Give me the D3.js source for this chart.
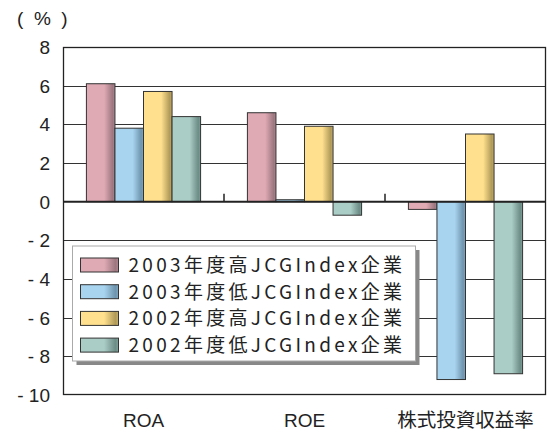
<!DOCTYPE html>
<html>
<head>
<meta charset="utf-8">
<script src="https://cdn.jsdelivr.net/npm/d3@7"></script>
<style>
  body { margin: 0; background: #fff; }
  text { font-family: "Liberation Sans", Arial, sans-serif; fill: #222; }
  .cjk { font-family: "Noto Sans CJK JP", "Liberation Sans", sans-serif; }
</style>
</head>
<body>
<div id="chart"></div>
<script>
// categories and series
const categories = ["ROA", "ROE", "株式投資収益率"];
const seriesNames = [
  "2003年度高JCGIndex企業",
  "2003年度低JCGIndex企業",
  "2002年度高JCGIndex企業",
  "2002年度低JCGIndex企業"
];
const s2003High = [6.1, 4.6, -0.4];
const s2003Low = [3.8, 0.1, -9.2];
const s2002High = [5.7, 3.9, 3.5];
const s2002Low = [4.4, -0.7, -8.9];
const yTicks = [8, 6, 4, 2, 0, -2, -4, -6, -8, -10];
const colors = ["#e0aab4", "#a9d4f0", "#ffe08e", "#aacdc6"];
const darks = ["#9c7780", "#6e94ae", "#b09a58", "#6c8c86"];

const allSeries = [s2003High, s2003Low, s2002High, s2002Low];

const W = 549, H = 432;
const svg = d3.select("#chart").append("svg")
  .attr("width", W).attr("height", H);

const plot = {left: 63, right: 546, top: 47, bottom: 395};

const x0 = d3.scaleBand().domain(categories)
  .range([plot.left, plot.right]).paddingInner(0).paddingOuter(0);
const x1 = d3.scaleBand().domain(d3.range(4))
  .range([0, x0.bandwidth()]).paddingOuter(0.82).paddingInner(0);
const y = d3.scaleLinear().domain([-10, 8]).range([plot.bottom, plot.top]);

// gradients for the bars
const defs = svg.append("defs");
colors.forEach((c, i) => {
  const g = defs.append("linearGradient").attr("id", "g" + i)
    .attr("x1", "0").attr("x2", "1").attr("y1", "0").attr("y2", "0");
  g.append("stop").attr("offset", "0").attr("stop-color", c);
  g.append("stop").attr("offset", "0.62").attr("stop-color", c);
  g.append("stop").attr("offset", "0.92").attr("stop-color", darks[i]);
  g.append("stop").attr("offset", "1").attr("stop-color", d3.interpolate(darks[i], c)(0.3));
});

// grid lines
svg.append("g").selectAll("line")
  .data(yTicks.filter(d => d !== 0 && d !== 8 && d !== -10))
  .join("line")
  .attr("x1", plot.left).attr("x2", plot.right)
  .attr("y1", d => Math.round(y(d)) + 0.5).attr("y2", d => Math.round(y(d)) + 0.5)
  .attr("stroke", "#333").attr("stroke-width", 1);

// bars
const groups = svg.append("g").selectAll("g")
  .data(categories)
  .join("g")
  .attr("transform", d => `translate(${x0(d)},0)`);

groups.selectAll("rect")
  .data((d, ci) => allSeries.map((s, si) => ({si, v: s[ci]})))
  .join("rect")
  .attr("x", d => x1(d.si))
  .attr("width", x1.bandwidth())
  .attr("y", d => y(Math.max(0, d.v)))
  .attr("height", d => Math.abs(y(d.v) - y(0)))
  .attr("fill", d => `url(#g${d.si})`)
  .attr("stroke", "#333").attr("stroke-width", 1);

// zero line
svg.append("line")
  .attr("x1", plot.left).attr("x2", plot.right)
  .attr("y1", y(0)).attr("y2", y(0))
  .attr("stroke", "#222").attr("stroke-width", 2);

// category separator ticks
svg.append("g").selectAll("line")
  .data(categories.slice(1))
  .join("line")
  .attr("x1", d => x0(d)).attr("x2", d => x0(d))
  .attr("y1", y(0) - 8).attr("y2", y(0))
  .attr("stroke", "#222").attr("stroke-width", 1.5);

// plot frame
svg.append("rect")
  .attr("x", plot.left + 0.5).attr("y", plot.top + 0.5)
  .attr("width", plot.right - plot.left - 1).attr("height", plot.bottom - plot.top - 1)
  .attr("fill", "none").attr("stroke", "#222").attr("stroke-width", 1.3);

// y axis labels
svg.append("g").selectAll("text")
  .data(yTicks)
  .join("text")
  .attr("x", 50).attr("y", d => y(d) + 7)
  .attr("text-anchor", "end")
  .attr("font-size", 19)
  .text(d => d < 0 ? "- " + Math.abs(d) : d);

svg.append("text")
  .attr("x", 17).attr("y", 25)
  .attr("font-size", 19)
  .attr("xml:space", "preserve")
  .text("(  %  )");

// category labels
svg.append("g").selectAll("text")
  .data(categories)
  .join("text")
  .attr("class", (d, i) => i === 2 ? "cjk" : null)
  .attr("x", d => x0(d) + x0.bandwidth() / 2)
  .attr("y", 427)
  .attr("text-anchor", "middle")
  .attr("font-size", d => d.length > 3 ? 19.5 : 19)
  .text(d => d);

// legend
const lg = svg.append("g").attr("transform", "translate(72.5,246)");
lg.append("rect").attr("x", 4).attr("y", 4).attr("width", 343).attr("height", 115)
  .attr("fill", "#888");
lg.append("rect").attr("x", 0).attr("y", 0).attr("width", 343).attr("height", 115)
  .attr("fill", "#fff").attr("stroke", "#aaa").attr("stroke-width", 1);

const items = lg.selectAll("g.item")
  .data(seriesNames)
  .join("g").attr("class", "item")
  .attr("transform", (d, i) => `translate(0,${19 + i * 26.7})`);

items.append("rect")
  .attr("x", 8).attr("y", -7).attr("width", 38).attr("height", 14)
  .attr("fill", (d, i) => `url(#g${i})`)
  .attr("stroke", "#333").attr("stroke-width", 1);

items.append("text")
  .attr("class", "cjk")
  .attr("x", 56).attr("y", 7)
  .attr("font-size", 19)
  .attr("letter-spacing", 3.3)
  .text(d => d);
</script>
</body>
</html>
